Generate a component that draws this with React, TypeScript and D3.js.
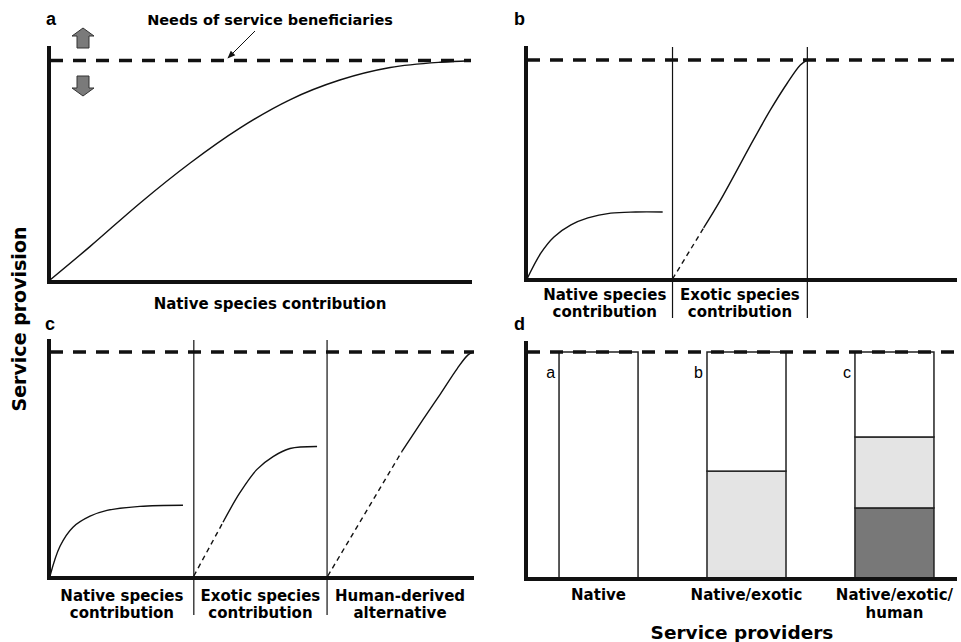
import React from "react";
import * as d3 from "d3";

type Pt = [number, number];

// panel a: native species only (x = contribution, y = share of need met)
const curveA: Pt[] = [
  [0, 0], [0.095, 0.152], [0.214, 0.35], [0.333, 0.532], [0.452, 0.692],
  [0.571, 0.821], [0.69, 0.911], [0.81, 0.968], [0.929, 0.992], [1, 0.999],
];

// panel b: native + exotic (x in thirds, separators at sepX)
const nativeB: Pt[] = [
  [0, 0], [0.098, 0.119], [0.189, 0.192], [0.308, 0.247], [0.427, 0.279],
  [0.587, 0.301], [0.762, 0.306], [0.951, 0.306],
];
const exoticBDash: Pt[] = [[1.02, 0], [1.238, 0.233]];
const exoticB: Pt[] = [
  [1.238, 0.233], [1.357, 0.361], [1.587, 0.635], [1.706, 0.772],
  [1.825, 0.895], [1.916, 0.977], [1.958, 0.997],
];

// panel c: native + exotic + human-derived
const nativeC: Pt[] = [
  [0, 0], [0.071, 0.133], [0.163, 0.218], [0.284, 0.267], [0.404, 0.293],
  [0.638, 0.311], [0.943, 0.316],
];
const exoticCDash: Pt[] = [[1.02, 0], [1.227, 0.24]];
const exoticC: Pt[] = [
  [1.227, 0.24], [1.348, 0.373], [1.468, 0.476], [1.582, 0.533],
  [1.702, 0.569], [1.894, 0.578],
];
const humanCDash: Pt[] = [[1.97, 0], [2.496, 0.556]];
const humanC: Pt[] = [
  [2.496, 0.556], [2.645, 0.698], [2.766, 0.81], [2.887, 0.925],
  [2.965, 0.987], [3, 0.998],
];

const sepX = [1.02, 1.965];
const labelsB = [["Native species", "contribution"], ["Exotic species", "contribution"]];
const labelsC = [
  ["Native species", "contribution"],
  ["Exotic species", "contribution"],
  ["Human-derived", "alternative"],
];

// panel d: share of need met by each provider type
const providers = ["Native", "Native/exotic", "Native/exotic/\nhuman"];
const barLetters = ["a", "b", "c"];
const humanShare = [0, 0, 0.31];
const exoticShare = [0, 0.473, 0.314];
const needLevel = 1;

const FONT = "'Liberation Sans', Arial, sans-serif";
const LABEL_FONT = "'DejaVu Sans', 'Liberation Sans', sans-serif";
const AXIS_W = 4;

const NeedLine = ({ x1, x2, y }: { x1: number; x2: number; y: number }) => (
  <line x1={x1} x2={x2} y1={y} y2={y} stroke="#111" strokeWidth={3.5} strokeDasharray="13 10" />
);

const Axes = ({ x0, x1, yTop, yBot }: { x0: number; x1: number; yTop: number; yBot: number }) => (
  <g stroke="#111" strokeWidth={AXIS_W} strokeLinecap="square">
    <line x1={x0} x2={x0} y1={yTop} y2={yBot} />
    <line x1={x0} x2={x1} y1={yBot} y2={yBot} />
  </g>
);

const BlockArrow = ({ x, y, dir }: { x: number; y: number; dir: 1 | -1 }) => {
  // x = centre, y = tip, dir = 1 up, -1 down
  const h = 8 * dir;
  const pts = [
    [x, y], [x + 11, y + h], [x + 6, y + h], [x + 6, y + 20 * dir],
    [x - 6, y + 20 * dir], [x - 6, y + h], [x - 11, y + h],
  ];
  return <polygon points={pts.map((p) => p.join(",")).join(" ")} fill="#7a7a7a" stroke="#333" strokeWidth={1} />;
};

const TwoLine = ({ cx, y, lines, gap = 17 }: { cx: number; y: number; lines: string[]; gap?: number }) => (
  <text x={cx} y={y} textAnchor="middle" fontSize={15} fontWeight="bold" fontFamily={LABEL_FONT}>
    {lines.map((t, j) => (
      <tspan key={j} x={cx} dy={j === 0 ? 0 : gap}>{t}</tspan>
    ))}
  </text>
);

const App = () => {
  // panel a scales
  const xa = d3.scaleLinear().domain([0, 1]).range([50, 470]);
  const ya = d3.scaleLinear().domain([0, 1]).range([280, 60.5]);
  const la = d3.line<Pt>().curve(d3.curveMonotoneX).x((d) => xa(d[0])).y((d) => ya(d[1]));

  // panel b scales
  const xb = d3.scaleLinear().domain([0, 3]).range([527, 955]);
  const yb = d3.scaleLinear().domain([0, 1]).range([279, 60]);
  const lb = d3.line<Pt>().curve(d3.curveCatmullRom).x((d) => xb(d[0])).y((d) => yb(d[1]));

  // panel c scales
  const xc = d3.scaleLinear().domain([0, 3]).range([50, 473]);
  const yc = d3.scaleLinear().domain([0, 1]).range([576, 352]);
  const lc = d3.line<Pt>().curve(d3.curveCatmullRom).x((d) => xc(d[0])).y((d) => yc(d[1]));

  // panel d scales
  const xd = d3.scaleBand<string>().domain(providers).range([525, 968]).paddingInner(0.466).paddingOuter(0.23);
  const yd = d3.scaleLinear().domain([0, 1]).range([578, 352]);
  const stackRows = providers.map((p, i) => ({
    provider: p,
    human: humanShare[i],
    exotic: exoticShare[i],
    native: needLevel - humanShare[i] - exoticShare[i],
  }));
  const stacked = d3.stack<any>().keys(["human", "exotic", "native"])(stackRows);
  const fills: Record<string, string> = { human: "#787878", exotic: "#e4e4e4", native: "#ffffff" };

  const edges = [0, ...sepX, 3];

  return (
    <svg width={961} height={642} style={{ position: "absolute", left: 0, top: 0, background: "#fff" }} fontFamily={FONT}>
      {/* shared y label */}
      <text transform="translate(26,319) rotate(-90)" textAnchor="middle" fontSize={19} fontWeight="bold" fontFamily={LABEL_FONT}>
        Service provision
      </text>

      {/* ---------- panel a ---------- */}
      <text x={46} y={25} fontSize={18} fontWeight="bold">a</text>
      <text x={270} y={25} textAnchor="middle" fontSize={14.5} fontWeight="bold" fontFamily={LABEL_FONT}>
        Needs of service beneficiaries
      </text>
      <defs>
        <marker id="ah" viewBox="0 0 10 10" refX={9} refY={5} markerWidth={8} markerHeight={8} orient="auto">
          <path d="M0,1 L10,5 L0,9 z" fill="#111" />
        </marker>
      </defs>
      <line x1={255} y1={31} x2={228} y2={58} stroke="#111" strokeWidth={1} markerEnd="url(#ah)" />
      <BlockArrow x={83} y={28} dir={1} />
      <BlockArrow x={83} y={96} dir={-1} />
      <NeedLine x1={50} x2={471} y={ya(1)} />
      <Axes x0={49} x1={470} yTop={48} yBot={282} />
      <path d={la(curveA) || ""} fill="none" stroke="#111" strokeWidth={1.4} />
      <text x={270} y={309} textAnchor="middle" fontSize={15} fontWeight="bold" fontFamily={LABEL_FONT}>
        Native species contribution
      </text>

      {/* ---------- panel b ---------- */}
      <text x={514} y={25} fontSize={18} fontWeight="bold">b</text>
      <NeedLine x1={527} x2={957} y={yb(1)} />
      {sepX.map((s) => (
        <line key={s} x1={xb(s)} x2={xb(s)} y1={47} y2={318} stroke="#111" strokeWidth={1.2} />
      ))}
      <Axes x0={526} x1={955} yTop={48} yBot={280} />
      <path d={lb(nativeB) || ""} fill="none" stroke="#111" strokeWidth={1.4} />
      <path d={lb(exoticBDash) || ""} fill="none" stroke="#111" strokeWidth={1.4} strokeDasharray="5 4" />
      <path d={lb(exoticB) || ""} fill="none" stroke="#111" strokeWidth={1.4} />
      {labelsB.map((lines, i) => (
        <TwoLine key={i} cx={(xb(edges[i]) + xb(edges[i + 1])) / 2 + (i === 0 ? 5 : 0)} y={300} lines={lines} />
      ))}

      {/* ---------- panel c ---------- */}
      <text x={45} y={330} fontSize={18} fontWeight="bold">c</text>
      <NeedLine x1={50} x2={474} y={yc(1)} />
      {sepX.map((s) => (
        <line key={s} x1={xc(s)} x2={xc(s)} y1={340} y2={615} stroke="#111" strokeWidth={1.2} />
      ))}
      <Axes x0={49} x1={472} yTop={341} yBot={578} />
      <path d={lc(nativeC) || ""} fill="none" stroke="#111" strokeWidth={1.4} />
      <path d={lc(exoticCDash) || ""} fill="none" stroke="#111" strokeWidth={1.4} strokeDasharray="5 4" />
      <path d={lc(exoticC) || ""} fill="none" stroke="#111" strokeWidth={1.4} />
      <path d={lc(humanCDash) || ""} fill="none" stroke="#111" strokeWidth={1.4} strokeDasharray="5 4" />
      <path d={lc(humanC) || ""} fill="none" stroke="#111" strokeWidth={1.4} />
      {labelsC.map((lines, i) => (
        <TwoLine key={i} cx={(xc(edges[i]) + xc(edges[i + 1])) / 2} y={601} lines={lines} />
      ))}

      {/* ---------- panel d ---------- */}
      <text x={514} y={330} fontSize={18} fontWeight="bold">d</text>
      {stacked.map((layer) =>
        layer.map((seg, i) =>
          seg[1] - seg[0] > 0 ? (
            <rect
              key={layer.key + i}
              x={xd(providers[i])}
              width={xd.bandwidth()}
              y={yd(seg[1])}
              height={yd(seg[0]) - yd(seg[1])}
              fill={fills[layer.key]}
              stroke="#222"
              strokeWidth={1.5}
            />
          ) : null
        )
      )}
      <NeedLine x1={527} x2={957} y={yd(needLevel)} />
      <Axes x0={526} x1={955} yTop={343} yBot={579} />
      {barLetters.map((l, i) => (
        <text key={l} x={(xd(providers[i]) || 0) - 4} y={378} textAnchor="end" fontSize={16}>{l}</text>
      ))}
      {providers.map((p) => (
        <TwoLine key={p} cx={(xd(p) || 0) + xd.bandwidth() / 2} y={600} lines={p.split("\n")} gap={17.5} />
      ))}
      <text x={742} y={639} textAnchor="middle" fontSize={18.5} fontWeight="bold" fontFamily={LABEL_FONT}>
        Service providers
      </text>
    </svg>
  );
};

export default App;
